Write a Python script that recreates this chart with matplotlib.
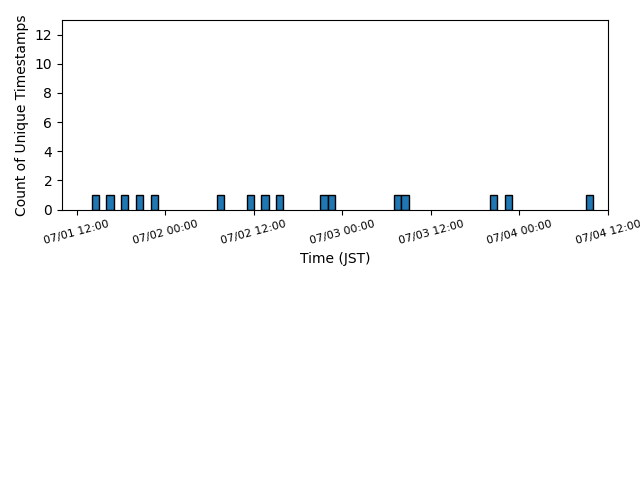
import matplotlib
matplotlib.use("Agg")
import matplotlib.pyplot as plt
import matplotlib.dates as mdates
import pandas as pd

# hourly bins (JST) that hold unique timestamps, and their counts
bin_starts = [
    "2024-07-01 14:00", "2024-07-01 16:00", "2024-07-01 18:00",
    "2024-07-01 20:00", "2024-07-01 22:00", "2024-07-02 07:00",
    "2024-07-02 11:00", "2024-07-02 13:00", "2024-07-02 15:00",
    "2024-07-02 21:00", "2024-07-02 22:00", "2024-07-03 07:00",
    "2024-07-03 08:00", "2024-07-03 20:00", "2024-07-03 22:00",
    "2024-07-04 09:00",
]
counts = [1, 1, 1, 1, 1, 1, 1, 1, 1, 1, 1, 1, 1, 1, 1, 1]

x_start = "2024-07-01 10:00"
x_end = "2024-07-04 12:00"

times = pd.to_datetime(bin_starts)

fig = plt.figure(figsize=(6.4, 4.8), dpi=100)
ax = fig.add_axes([0.097, 0.5635, 0.853, 0.3948])

ax.bar(times, counts, width=1 / 24, align="edge",
       color="#1f77b4", edgecolor="black", linewidth=1.0)

ax.set_xlim(pd.Timestamp(x_start), pd.Timestamp(x_end))
ax.set_ylim(0, 13)
ax.set_yticks([0, 2, 4, 6, 8, 10, 12])

ax.xaxis.set_major_locator(mdates.HourLocator(byhour=[0, 12]))
ax.xaxis.set_major_formatter(mdates.DateFormatter("%m/%d %H:%M"))
plt.setp(ax.get_xticklabels(), rotation=15, ha="center", fontsize=8)

ax.set_xlabel("Time (JST)")
ax.set_ylabel("Count of Unique Timestamps")

fig.savefig("out.png", dpi=100)
